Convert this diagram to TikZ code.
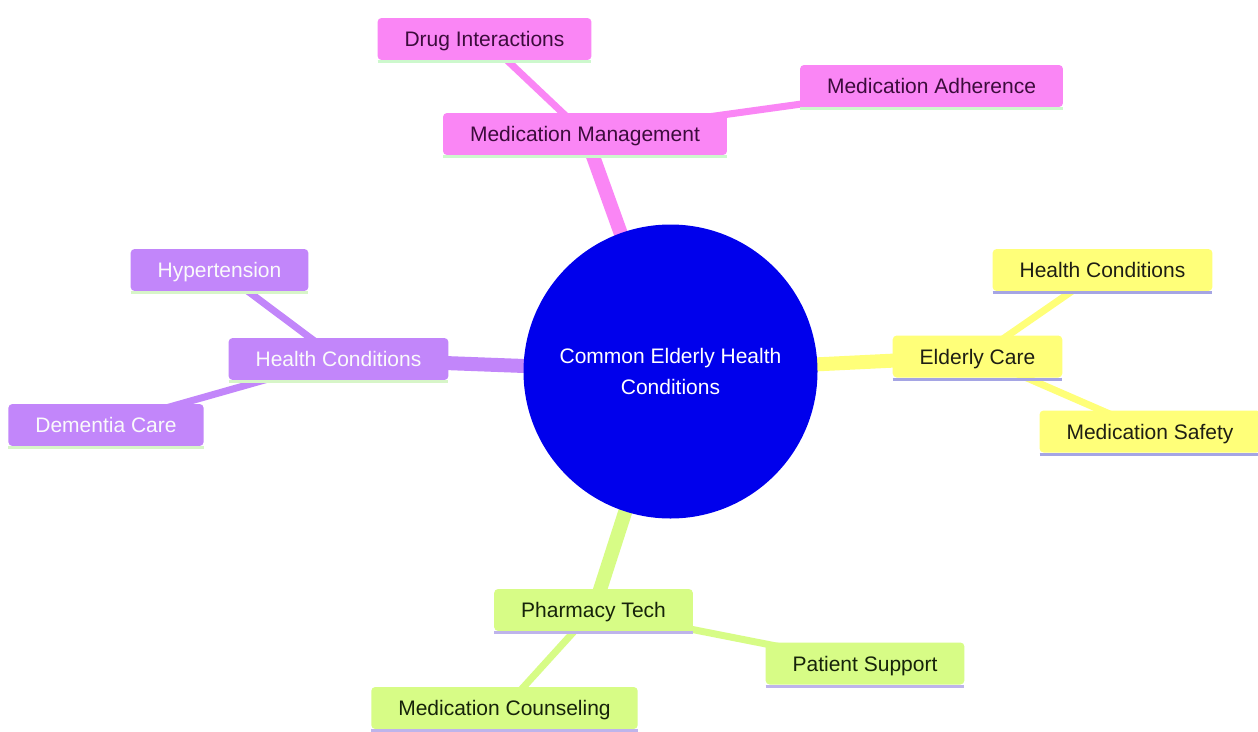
\documentclass[tikz,border=0pt]{standalone}
\usepackage{fontspec}
\setmainfont{Liberation Sans}
\usetikzlibrary{backgrounds}
\definecolor{rootc}{RGB}{0,0,236}
\definecolor{pinkc}{RGB}{250,134,245}
\definecolor{purpc}{RGB}{194,134,250}
\definecolor{yelc}{RGB}{255,255,121}
\definecolor{grnc}{RGB}{215,252,134}
\definecolor{pinkt}{RGB}{60,12,60}
\definecolor{yelt}{RGB}{30,30,20}
\definecolor{grnt}{RGB}{22,35,10}
\definecolor{purpt}{RGB}{250,250,250}
\definecolor{pinkul}{RGB}{205,248,205}
\definecolor{purpul}{RGB}{215,245,200}
\definecolor{yelul}{RGB}{165,165,228}
\definecolor{grnul}{RGB}{190,180,235}
\tikzset{
  box/.style={rectangle, rounded corners=4pt, inner xsep=27pt, inner ysep=0pt,
    minimum height=42pt, outer sep=0pt, text height=17pt, text depth=2pt,
    font=\fontsize{21}{25}\selectfont},
  pinkbox/.style={box, fill=pinkc, text=pinkt},
  purpbox/.style={box, fill=purpc, text=purpt},
  yelbox/.style={box, fill=yelc, text=yelt},
  grnbox/.style={box, fill=grnc, text=grnt},
  rootnode/.style={circle, fill=rootc, minimum size=294pt, inner sep=0pt,
    text=white, align=center, font=\fontsize{21}{31}\selectfont},
  mainedge/.style={line width=14pt},
  subedge/.style={line width=7pt},
  uline/.style={line width=3pt}
}
\begin{document}
\begin{tikzpicture}[x=1pt,y=-1pt]
\useasboundingbox (0,0) rectangle (1258,731);
% nodes
\node[rootnode] (root) at (670.5,371.5) {Common Elderly Health\\Conditions};
\node[pinkbox] (mm) at (585,134) {Medication Management};
\node[pinkbox] (di) at (484.5,39) {Drug Interactions};
\node[pinkbox] (ma) at (931.5,86) {Medication Adherence};
\node[purpbox] (hc) at (338.5,359) {Health Conditions};
\node[purpbox] (hy) at (219.5,270) {Hypertension};
\node[purpbox] (dc) at (106,425) {Dementia Care};
\node[yelbox] (ec) at (977.5,356.5) {Elderly Care};
\node[yelbox] (yhc) at (1102.5,270) {Health Conditions};
\node[yelbox] (ms) at (1150,431.5) {Medication Safety};
\node[grnbox] (pt) at (593.5,610) {Pharmacy Tech};
\node[grnbox] (ps) at (865,663.5) {Patient Support};
\node[grnbox] (mc) at (504.5,708) {Medication Counseling};
% underlines
\foreach \n/\c in {mm/pinkul, di/pinkul, ma/pinkul, hc/purpul, hy/purpul, dc/purpul,
  ec/yelul, yhc/yelul, ms/yelul, pt/grnul, ps/grnul, mc/grnul}
  \draw[uline, \c] ([yshift=-1.5pt]\n.south west) -- ([yshift=-1.5pt]\n.south east);
% edges behind nodes
\begin{scope}[on background layer]
\fill[white] (0,0) rectangle (1258,731);
\draw[mainedge, pinkc] (root.center) -- (mm.center);
\draw[mainedge, purpc] (root.center) -- (hc.center);
\draw[mainedge, yelc] (root.center) -- (ec.center);
\draw[mainedge, grnc] (root.center) -- (pt.center);
\draw[subedge, pinkc] (mm.center) -- (di.center);
\draw[subedge, pinkc] (mm.center) -- (ma.center);
\draw[subedge, purpc] (hc.center) -- (hy.center);
\draw[subedge, purpc] (hc.center) -- (dc.center);
\draw[subedge, yelc] (ec.center) -- (yhc.center);
\draw[subedge, yelc] (ec.center) -- (ms.center);
\draw[subedge, grnc] (pt.center) -- (ps.center);
\draw[subedge, grnc] (pt.center) -- (mc.center);
\end{scope}
\end{tikzpicture}
\end{document}
